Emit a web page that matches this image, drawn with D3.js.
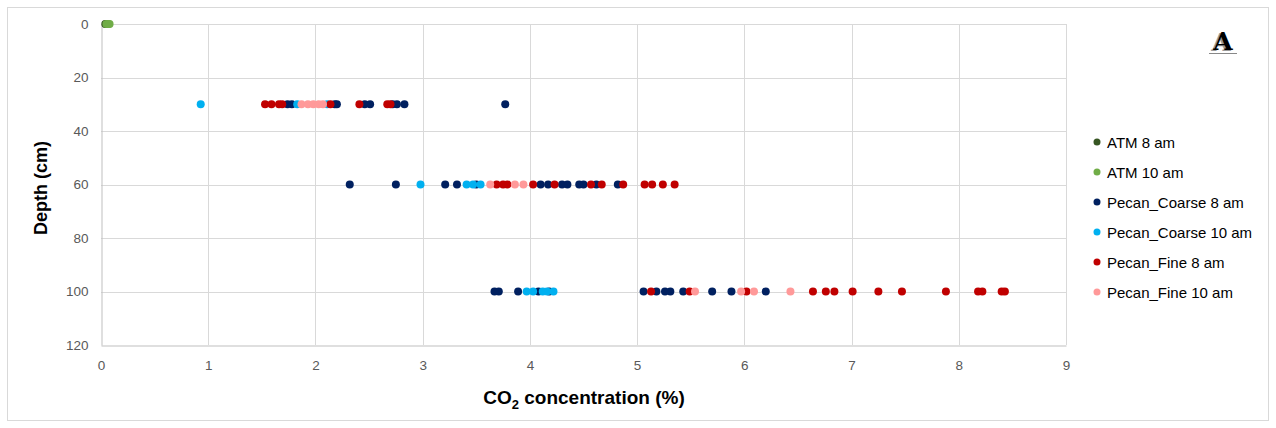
<!DOCTYPE html>
<html>
<head>
<meta charset="utf-8">
<script src="https://cdn.jsdelivr.net/npm/d3@7"></script>
<style>
  html, body { margin: 0; padding: 0; background: #fff; }
  svg { display: block; font-family: "Liberation Sans", Arial, sans-serif; }
</style>
</head>
<body>
<svg id="chart" width="1276" height="428"></svg>
<script>
// CO2 concentration (%) readings per series, grouped by sampling depth (cm)
const seriesNames = ["ATM 8 am", "ATM 10 am", "Pecan_Coarse 8 am", "Pecan_Coarse 10 am", "Pecan_Fine 8 am", "Pecan_Fine 10 am"];
const seriesColors = ["#375623", "#70ad47", "#002060", "#00b0f0", "#c00000", "#ff9999"];

const atm8 = [[0, 0.04], [0, 0.05]];
const atm10 = [[0, 0.05], [0, 0.07], [0, 0.08]];
const coarse8 = [
  [30, 1.74], [30, 1.78], [30, 2.18], [30, 2.20], [30, 2.46], [30, 2.51], [30, 2.72], [30, 2.76], [30, 2.83], [30, 3.77],
  [60, 2.32], [60, 2.75], [60, 3.21], [60, 3.32], [60, 3.50], [60, 4.10], [60, 4.17], [60, 4.30], [60, 4.35], [60, 4.46], [60, 4.50], [60, 4.62], [60, 4.82],
  [100, 3.67], [100, 3.71], [100, 3.89], [100, 4.08], [100, 4.18], [100, 5.06], [100, 5.18], [100, 5.26], [100, 5.31], [100, 5.43], [100, 5.70], [100, 5.88], [100, 6.20]
];
const coarse10 = [
  [30, 0.93], [30, 1.83], [30, 2.11],
  [60, 2.98], [60, 3.41], [60, 3.47], [60, 3.54],
  [100, 3.97], [100, 4.03], [100, 4.12], [100, 4.16], [100, 4.22]
];
const fine8 = [
  [30, 1.53], [30, 1.59], [30, 1.66], [30, 1.69], [30, 2.14], [30, 2.41], [30, 2.67], [30, 2.70],
  [60, 3.69], [60, 3.75], [60, 3.79], [60, 4.03], [60, 4.23], [60, 4.57], [60, 4.67], [60, 4.87], [60, 5.07], [60, 5.14], [60, 5.24], [60, 5.35],
  [100, 5.13], [100, 5.49], [100, 6.02], [100, 6.64], [100, 6.76], [100, 6.84], [100, 7.01], [100, 7.25], [100, 7.47], [100, 7.88], [100, 8.18], [100, 8.22], [100, 8.40], [100, 8.43]
];
const fine10 = [
  [30, 1.87], [30, 1.93], [30, 1.98], [30, 2.03], [30, 2.07],
  [60, 3.63], [60, 3.86], [60, 3.94],
  [100, 5.54], [100, 5.97], [100, 6.09], [100, 6.43]
];
const seriesData = [atm8, atm10, coarse8, coarse10, fine8, fine10];

const xTicks = [0, 1, 2, 3, 4, 5, 6, 7, 8, 9];
const yTicks = [0, 20, 40, 60, 80, 100, 120];

const svg = d3.select("#chart");

// outer chart frame
svg.append("rect")
  .attr("x", 7.5).attr("y", 7.5)
  .attr("width", 1261).attr("height", 413)
  .attr("fill", "#fff").attr("stroke", "#d9d9d9").attr("stroke-width", 1);

const plot = { left: 101, right: 1066, top: 24, bottom: 345 };

const x = d3.scaleLinear().domain([0, 9]).range([plot.left, plot.right]);
const y = d3.scaleLinear().domain([0, 120]).range([plot.top, plot.bottom]);

// gridlines
const grid = svg.append("g");
grid.selectAll("line.v").data(xTicks.slice(1)).join("line")
  .attr("x1", d => Math.round(x(d)) + 0.5).attr("x2", d => Math.round(x(d)) + 0.5)
  .attr("y1", plot.top).attr("y2", plot.bottom)
  .attr("stroke", "#d9d9d9");
grid.selectAll("line.h").data(yTicks.slice(0, -1)).join("line")
  .attr("x1", plot.left).attr("x2", plot.right)
  .attr("y1", d => Math.round(y(d)) + 0.5).attr("y2", d => Math.round(y(d)) + 0.5)
  .attr("stroke", "#d9d9d9");

// axes
const xAxis = svg.append("g")
  .attr("transform", `translate(0,${Math.round(y(120)) + 0.5})`)
  .call(d3.axisBottom(x).tickValues(xTicks).tickFormat(d3.format("d")).tickSize(0).tickPadding(15));
const yAxis = svg.append("g")
  .attr("transform", `translate(${Math.round(x(0)) + 0.5},0)`)
  .call(d3.axisLeft(y).tickValues(yTicks).tickFormat(d3.format("d")).tickSize(0).tickPadding(13));
[xAxis, yAxis].forEach(a => {
  a.select(".domain").attr("stroke", "#bfbfbf");
  a.selectAll("text").attr("fill", "#595959").style("font-size", "13.5px")
    .style("font-family", "'Liberation Sans', Arial, sans-serif");
});

// axis titles
const xTitle = svg.append("text")
  .attr("x", 584).attr("y", 404)
  .attr("text-anchor", "middle")
  .attr("font-weight", "bold").attr("font-size", 19).attr("fill", "#000");
xTitle.append("tspan").text("CO");
xTitle.append("tspan").attr("dy", 5).attr("font-size", 13).text("2");
xTitle.append("tspan").attr("dy", -5).text(" concentration (%)");

svg.append("text")
  .attr("transform", "translate(47,188) rotate(-90)")
  .attr("text-anchor", "middle")
  .attr("font-weight", "bold").attr("font-size", 18).attr("fill", "#000")
  .text("Depth (cm)");

// data points
const pts = svg.append("g");
seriesData.forEach((data, i) => {
  pts.append("g").selectAll("circle").data(data).join("circle")
    .attr("cx", d => x(d[1]))
    .attr("cy", d => y(d[0]))
    .attr("r", 4)
    .attr("fill", seriesColors[i]);
});

// legend
const legend = svg.append("g").attr("transform", "translate(1097,142)");
seriesNames.forEach((name, i) => {
  const row = legend.append("g").attr("transform", `translate(0,${i * 30})`);
  row.append("circle").attr("r", 3.5).attr("fill", seriesColors[i]);
  row.append("text").attr("x", 10).attr("y", 5.5)
    .attr("font-size", 15).attr("fill", "#000").text(name);
});

// panel letter
const panel = svg.append("g").attr("transform", "translate(1223,51)");
panel.append("text").attr("x", -2).attr("y", 0)
  .attr("text-anchor", "middle")
  .attr("font-family", "'DejaVu Serif', serif").attr("font-weight", "bold")
  .attr("font-size", 25).attr("fill", "#999").text("A");
panel.append("text").attr("x", 0).attr("y", -1)
  .attr("text-anchor", "middle")
  .attr("font-family", "'DejaVu Serif', serif").attr("font-weight", "bold")
  .attr("font-size", 25).attr("fill", "#000").text("A");
panel.append("line").attr("x1", -14).attr("x2", 14).attr("y1", 2.5).attr("y2", 2.5)
  .attr("stroke", "#888").attr("stroke-width", 1);
</script>
</body>
</html>
